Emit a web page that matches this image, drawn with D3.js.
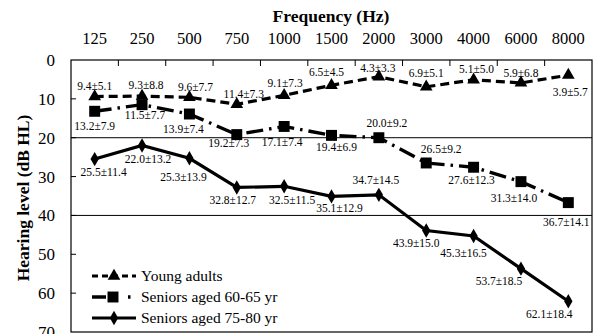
<!DOCTYPE html>
<html>
<head>
<meta charset="utf-8">
<script src="https://cdn.jsdelivr.net/npm/d3@7"></script>
<style>
  body { margin: 0; background: #fff; }
</style>
</head>
<body>
<svg id="chart" width="594" height="334" font-family="'Liberation Serif', 'DejaVu Serif', serif"></svg>
<script>
// Data
const frequencies = ["125", "250", "500", "750", "1000", "1500", "2000", "3000", "4000", "6000", "8000"];
const youngMean = [9.4, 9.3, 9.6, 11.4, 9.1, 6.5, 4.3, 6.9, 5.1, 5.9, 3.9];
const youngSd = [5.1, 8.8, 7.7, 7.3, 7.3, 4.5, 3.3, 5.1, 5.0, 6.8, 5.7];
const mid60Mean = [13.2, 11.5, 13.9, 19.2, 17.1, 19.4, 20.0, 26.5, 27.6, 31.3, 36.7];
const mid60Sd = [7.9, 7.7, 7.4, 7.3, 7.4, 6.9, 9.2, 9.2, 12.3, 14.0, 14.1];
const old75Mean = [25.5, 22.0, 25.3, 32.8, 32.5, 35.1, 34.7, 43.9, 45.3, 53.7, 62.1];
const old75Sd = [11.4, 13.2, 13.9, 12.7, 11.5, 12.9, 14.5, 15.0, 16.5, 18.5, 18.4];
const yTicks = [0, 10, 20, 30, 40, 50, 60, 70];
const gridValues = [20, 40];

// label offsets from each point (layout only)
const youngLabelOff = [[0,-7],[4,-7],[6,-6],[7,-6],[1,-8],[-5,-9],[-1,-5],[0,-10],[3,-7],[0,-6],[2,21]];
const mid60LabelOff = [[0,19],[3,14],[-6,19],[-8,12],[-2,20],[5,16],[8,-11],[15,-10],[-2,17],[-7,20],[-2,23]];
const old75LabelOff = [[9,17],[6,18],[-6,23],[-4,17],[8,18],[8,16],[-3,-11],[-10,16],[-10,21],[-22,16],[-19,17]];

const svg = d3.select("#chart");
const margin = { left: 71, right: 2, top: 60, bottom: 2 };
const W = 594, H = 334;

const x = d3.scaleBand().domain(frequencies).range([margin.left, W - margin.right]);
const y = d3.scaleLinear().domain([0, 70]).range([margin.top, 332]);
const cx = f => x(f) + x.bandwidth() / 2;

// gridlines at 20 and 40
svg.append("g").selectAll("line").data(gridValues).enter().append("line")
    .attr("x1", x.range()[0]).attr("x2", x.range()[1])
    .attr("y1", d => y(d)).attr("y2", d => y(d))
    .attr("stroke", "#000").attr("stroke-width", 1);

// frame
svg.append("rect")
    .attr("x", x.range()[0]).attr("y", y(0))
    .attr("width", x.range()[1] - x.range()[0]).attr("height", y(70) - y(0))
    .attr("fill", "none").attr("stroke", "#000").attr("stroke-width", 1.2);

// top axis (ticks at band edges, labels at centers)
const topG = svg.append("g");
topG.selectAll("line").data(frequencies.slice(1)).enter().append("line")
    .attr("x1", d => x(d)).attr("x2", d => x(d))
    .attr("y1", y(0)).attr("y2", y(0) + 6)
    .attr("stroke", "#000").attr("stroke-width", 1);
topG.selectAll("text").data(frequencies).enter().append("text")
    .attr("x", d => cx(d)).attr("y", 44)
    .attr("text-anchor", "middle").attr("font-size", 16.5)
    .text(d => d);

svg.append("text").attr("x", 331).attr("y", 22)
    .attr("text-anchor", "middle").attr("font-size", 17.5).attr("font-weight", "bold")
    .text("Frequency (Hz)");

// left axis
const leftG = svg.append("g");
leftG.selectAll("line").data(yTicks.slice(1, -1)).enter().append("line")
    .attr("x1", x.range()[0]).attr("x2", x.range()[0] + 5)
    .attr("y1", d => y(d)).attr("y2", d => y(d))
    .attr("stroke", "#000").attr("stroke-width", 1);
leftG.selectAll("text").data(yTicks).enter().append("text")
    .attr("x", 55).attr("y", d => y(d) + 6)
    .attr("text-anchor", "end").attr("font-size", 17)
    .text(d => d);

svg.append("text")
    .attr("transform", `translate(29,${(y(0) + y(70)) / 2 + 2}) rotate(-90)`)
    .attr("text-anchor", "middle").attr("font-size", 17.5).attr("font-weight", "bold")
    .text("Hearing level (dB HL)");

const series = [
    { name: "Young adults", mean: youngMean, sd: youngSd, off: youngLabelOff, dash: "9,5", width: 3.2, symbol: d3.symbolTriangle, size: 70 },
    { name: "Seniors aged 60-65 yr", mean: mid60Mean, sd: mid60Sd, off: mid60LabelOff, dash: "17,6,2.5,6", width: 3.4, symbol: d3.symbolSquare, size: 120 },
    { name: "Seniors aged 75-80 yr", mean: old75Mean, sd: old75Sd, off: old75LabelOff, dash: null, width: 3.2, symbol: d3.symbolDiamond, size: 60 }
];

const line = d3.line().x(d => cx(d.f)).y(d => y(d.v));

series.forEach(s => {
    const pts = frequencies.map((f, i) => ({ f: f, v: s.mean[i], sd: s.sd[i], off: s.off[i] }));
    const g = svg.append("g");
    g.append("path").datum(pts)
        .attr("d", line)
        .attr("fill", "none").attr("stroke", "#000")
        .attr("stroke-width", s.width)
        .attr("stroke-dasharray", s.dash);
    g.selectAll("path.m").data(pts).enter().append("path")
        .attr("class", "m")
        .attr("d", d3.symbol().type(s.symbol).size(s.size))
        .attr("transform", d => `translate(${cx(d.f)},${y(d.v)})`)
        .attr("fill", "#000");
    g.selectAll("text").data(pts).enter().append("text")
        .attr("x", d => cx(d.f) + d.off[0])
        .attr("y", d => y(d.v) + d.off[1])
        .attr("text-anchor", "middle").attr("font-size", 11.5)
        .text(d => d.v.toFixed(1) + "\u00B1" + d.sd.toFixed(1));
});

// legend
const legendY = [276, 297, 318];
const leg = svg.append("g");
series.forEach((s, i) => {
    const ly = legendY[i];
    leg.append("line")
        .attr("x1", 92).attr("x2", i === 1 ? 132 : 136)
        .attr("y1", ly).attr("y2", ly)
        .attr("stroke", "#000").attr("stroke-width", s.width)
        .attr("stroke-dasharray", i === 0 ? "6,4" : (i === 1 ? "14,22,2.5,10" : null));
    leg.append("path")
        .attr("d", d3.symbol().type(s.symbol).size(s.size))
        .attr("transform", `translate(${i === 1 ? 113 : 114},${ly})`)
        .attr("fill", "#000");
    leg.append("text")
        .attr("x", 141).attr("y", ly + 5)
        .attr("font-size", 15.5)
        .text(s.name);
});
</script>
</body>
</html>
